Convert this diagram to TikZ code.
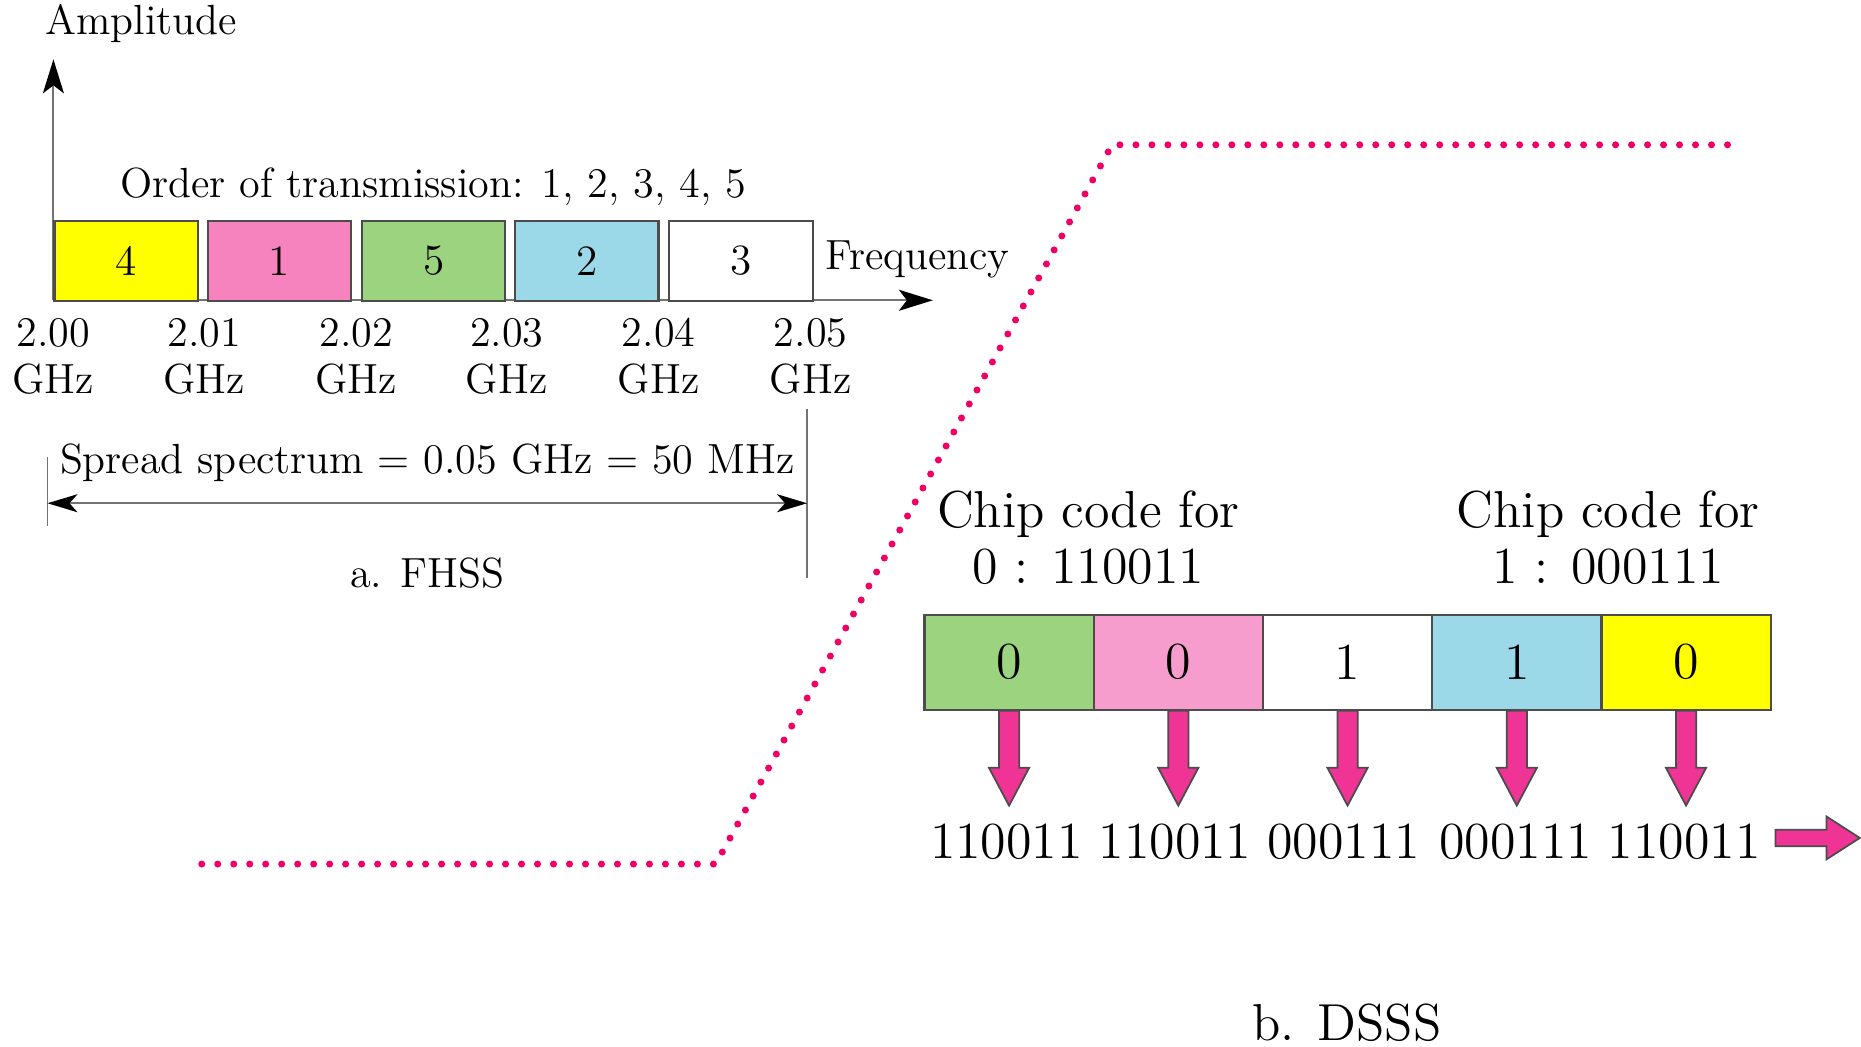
\documentclass[tikz,border=0pt]{standalone}
\usetikzlibrary{arrows.meta,calc}
\definecolor{cyel}{RGB}{255,255,0}
\definecolor{cpinkA}{RGB}{246,130,190}
\definecolor{cpinkB}{RGB}{247,157,206}
\definecolor{cgreen}{RGB}{155,211,127}
\definecolor{cblue}{RGB}{155,216,232}
\definecolor{carrow}{RGB}{240,52,150}
\definecolor{cdot}{RGB}{240,0,100}
\tikzset{
  fsmall/.style={font=\fontsize{12}{13.3}\selectfont, inner sep=0pt},
  fbig/.style={font=\fontsize{14.8}{15.8}\selectfont, inner sep=0pt},
  fbox/.style={draw=black!70, line width=0.6pt, minimum width=1.436cm, minimum height=0.807cm, inner sep=0pt, anchor=north west, font=\fontsize{12.3}{13.5}\selectfont},
  dbox/.style={draw=black!70, line width=0.6pt, minimum width=1.6925cm, minimum height=0.9495cm, inner sep=0pt, anchor=north west, font=\fontsize{14.8}{15.8}\selectfont},
  axis/.style={draw=black!55, line width=0.55pt},
  tip/.style={-{Stealth[length=0.34cm,width=0.21cm,inset=0.08cm,color=black]}},
  dtip/.style={{Stealth[length=0.3cm,width=0.18cm,inset=0.08cm,color=black]}-{Stealth[length=0.3cm,width=0.18cm,inset=0.08cm,color=black]}},
  blockarrow/.style={fill=carrow, draw=black!70, line width=0.5pt, line join=miter},
  dotline/.style={draw=cdot, line width=2pt, line cap=round, dash pattern=on 0pt off 4.55pt}
}
\begin{document}
\begin{tikzpicture}[x=0.0118686cm, y=-0.0118686cm]
\useasboundingbox[fill=white] (0,0) rectangle (1568,882);

% ---------- FHSS ----------
\coordinate (O) at (45,253);
\coordinate (ytop) at (45,50);
\coordinate (xend) at (786,253);
\draw[axis,tip] (O) -- (ytop);
\draw[axis,tip] (O) -- (xend);
\node[fsmall] (amp) at (119,20) {Amplitude};

\node[fbox, fill=cyel]   (f1) at (45,185)  {4};
\node[fbox, fill=cpinkA] (f2) at (174,185) {1};
\node[fbox, fill=cgreen] (f3) at (304,185) {5};
\node[fbox, fill=cblue]  (f4) at (433,185) {2};
\node[fbox, fill=white]  (f5) at (563,185) {3};

\node[fsmall] (order) at (365,157) {Order of transmission: 1, 2, 3, 4, 5};
\node[fsmall, anchor=west] (freq) at (695,219) {Frequency};

\node[fsmall, align=center] (g0) at (45,300)  {2.00\\GHz};
\node[fsmall, align=center] (g1) at (172,300) {2.01\\GHz};
\node[fsmall, align=center] (g2) at (300,300) {2.02\\GHz};
\node[fsmall, align=center] (g3) at (427,300) {2.03\\GHz};
\node[fsmall, align=center] (g4) at (555,300) {2.04\\GHz};
\node[fsmall, align=center] (g5) at (683,300) {2.05\\GHz};

\coordinate (lt) at (40,385);
\coordinate (lb) at (40,443);
\coordinate (rt) at (680,345);
\coordinate (rb) at (680,487);
\coordinate (la) at (40,424);
\coordinate (ra) at (680,424);
\draw[axis] (lt) -- (lb);
\draw[axis] (rt) -- (rb);
\draw[axis,dtip] (la) -- (ra);
\node[fsmall] (spread) at (360,390) {Spread spectrum = 0.05 GHz = 50 MHz};
\node[fsmall] (fhss) at (360,483) {a. FHSS};

% ---------- dotted separator ----------
\draw[dotline] (170,728) -- (603,728) -- (937,122) -- (1463,122);

% ---------- DSSS ----------
\node[fbig, align=center] (c0) at (917,453) {Chip code for\\0 : 110011};
\node[fbig, align=center] (c1) at (1355,453) {Chip code for\\1 : 000111};

\node[dbox, fill=cgreen] (d1) at (778,517)    {0};
\node[dbox, fill=cpinkB] (d2) at (920.6,517)  {0};
\node[dbox, fill=white]  (d3) at (1063.2,517) {1};
\node[dbox, fill=cblue]  (d4) at (1205.8,517) {1};
\node[dbox, fill=cyel]   (d5) at (1348.4,517) {0};

\node[fbig] (t1) at (848,709)  {110011};
\node[fbig] (t2) at (990,709)  {110011};
\node[fbig] (t3) at (1132,709) {000111};
\node[fbig] (t4) at (1277,709) {000111};
\node[fbig] (t5) at (1419,709) {110011};

\foreach \i in {1,...,5}{
  \draw[blockarrow] ($(d\i.south)+(-8.5,0)$) -- ++(0,48) -- ++(-8.5,0) -- ++(17,32) -- ++(17,-32) -- ++(-8.5,0) -- ++(0,-48) -- cycle;
}

\coordinate (out) at (1496,706);
\draw[blockarrow] (out) ++(0,-7) -- ++(43,0) -- ++(0,-11) -- ++(28,18) -- ++(-28,18) -- ++(0,-11) -- ++(-43,0) -- cycle;

\node[fbig] (dsss) at (1135,862) {b. DSSS};
\end{tikzpicture}
\end{document}
